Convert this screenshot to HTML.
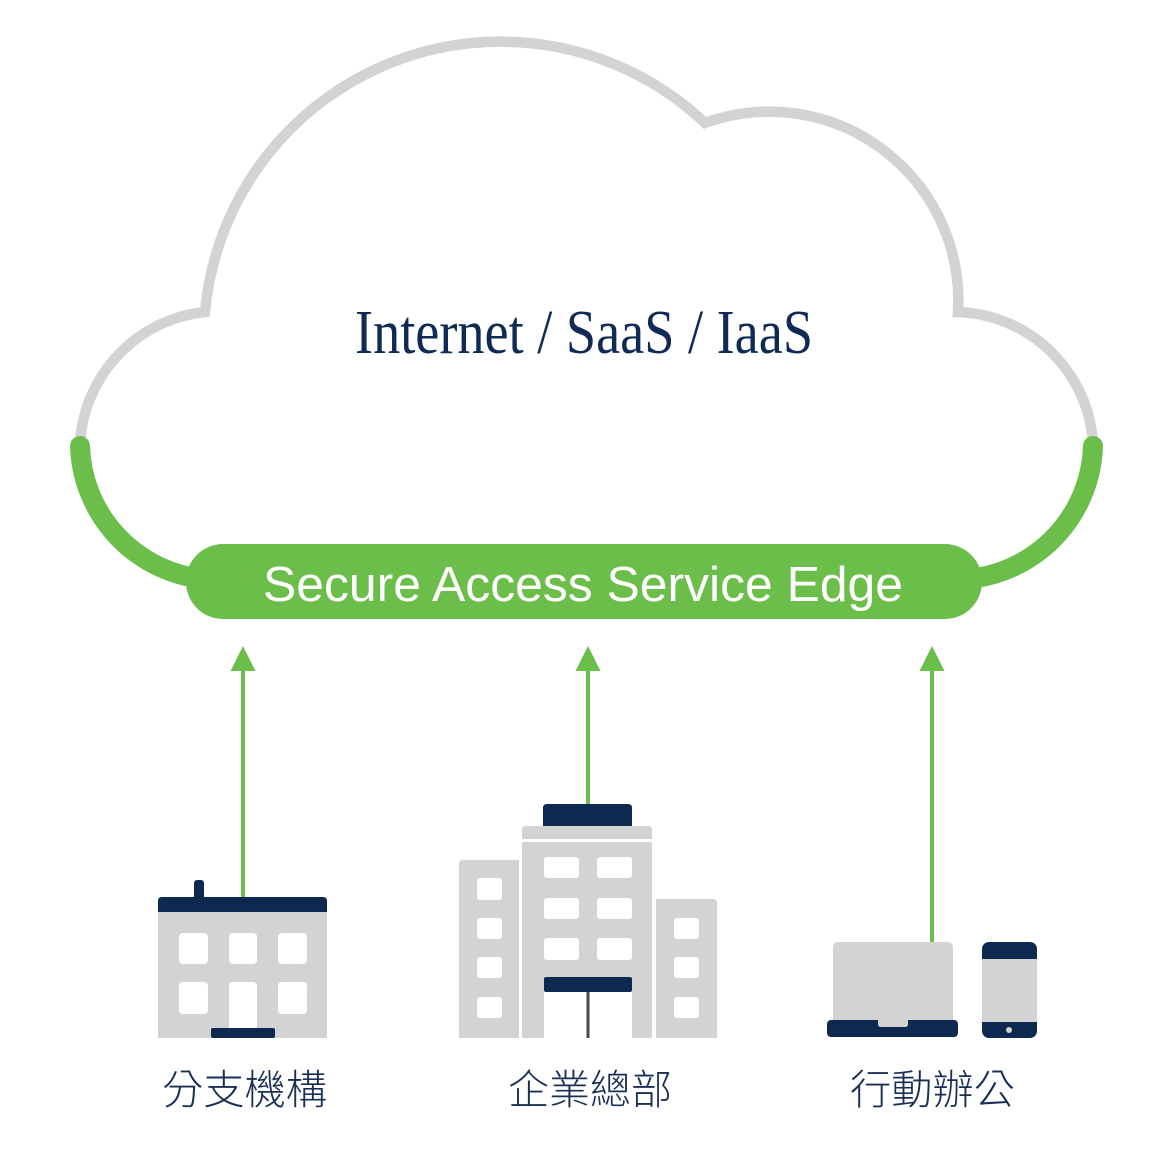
<!DOCTYPE html>
<html>
<head>
<meta charset="utf-8">
<style>
  html, body { margin:0; padding:0; background:#ffffff; }
  body { width:1176px; height:1156px; overflow:hidden; }
  svg { display:block; }
</style>
</head>
<body>
<svg width="1176" height="1156" viewBox="0 0 1176 1156" xmlns="http://www.w3.org/2000/svg">
  <!-- Cloud outline (gray) -->
  <path d="M 80 444 A 140 140 0 0 1 205 312 A 297 297 0 0 1 705 123 A 189 189 0 0 1 958 312 A 140 140 0 0 1 1093 444"
        fill="none" stroke="#d3d3d3" stroke-width="10.5" stroke-linejoin="miter"/>

  <!-- Green arcs -->
  <path d="M 80 446 A 138 138 0 0 0 196 578" fill="none" stroke="#6cbe4b" stroke-width="20" stroke-linecap="round"/>
  <path d="M 1093 446 A 138 138 0 0 1 976 578" fill="none" stroke="#6cbe4b" stroke-width="20" stroke-linecap="round"/>

  <!-- SASE pill -->
  <rect x="186" y="544" width="796" height="75" rx="37" ry="37" fill="#6cbe4b"/>
  <text x="263" y="601" font-family="'Liberation Sans', Arial, sans-serif" font-size="49" fill="#ffffff"
        textLength="640" lengthAdjust="spacingAndGlyphs">Secure Access Service Edge</text>

  <!-- Cloud label -->
  <text x="355" y="353" font-family="'Liberation Serif', 'Times New Roman', serif" font-size="62" fill="#0e2a55"
        textLength="458" lengthAdjust="spacingAndGlyphs">Internet / SaaS / IaaS</text>

  <!-- Arrows -->
  <g fill="#6cbe4b">
    <polygon points="230.5,671 243,646 255.5,671"/>
    <rect x="241" y="668" width="4" height="230"/>
    <polygon points="575.5,671 588,646 600.5,671"/>
    <rect x="586" y="668" width="4" height="137"/>
    <polygon points="919.5,671 932,646 944.5,671"/>
    <rect x="930" y="668" width="4" height="275"/>
  </g>

  <!-- Branch building -->
  <g>
    <rect x="194" y="880" width="10" height="20" rx="3" fill="#0e2950"/>
    <rect x="158" y="912" width="169" height="126" fill="#d3d3d3"/>
    <path d="M 158 912 L 158 901 Q 158 897 162 897 L 323 897 Q 327 897 327 901 L 327 912 Z" fill="#0e2950"/>
    <g fill="#ffffff">
      <rect x="179" y="933" width="29" height="31" rx="4"/>
      <rect x="229" y="933" width="28" height="31" rx="4"/>
      <rect x="278" y="933" width="29" height="31" rx="4"/>
      <rect x="179" y="982" width="29" height="32" rx="4"/>
      <rect x="229" y="982" width="28" height="56" rx="4"/>
      <rect x="278" y="982" width="29" height="32" rx="4"/>
    </g>
    <rect x="211" y="1028" width="64" height="10" rx="2" fill="#0e2950"/>
  </g>

  <!-- HQ buildings -->
  <g>
    <!-- left tower -->
    <path d="M 459 1038 L 459 864 Q 459 860 463 860 L 519 860 L 519 1038 Z" fill="#d3d3d3"/>
    <g fill="#ffffff">
      <rect x="477" y="878" width="25" height="22" rx="3"/>
      <rect x="477" y="918" width="25" height="21" rx="3"/>
      <rect x="477" y="957" width="25" height="21" rx="3"/>
      <rect x="477" y="997" width="25" height="21" rx="3"/>
    </g>
    <!-- right tower -->
    <path d="M 656 1038 L 656 899 L 713 899 Q 717 899 717 903 L 717 1038 Z" fill="#d3d3d3"/>
    <g fill="#ffffff">
      <rect x="674" y="918" width="25" height="21" rx="3"/>
      <rect x="674" y="957" width="25" height="21" rx="3"/>
      <rect x="674" y="997" width="25" height="21" rx="3"/>
    </g>
    <!-- center tower -->
    <path d="M 543 826 L 543 808 Q 543 804 547 804 L 628 804 Q 632 804 632 808 L 632 826 Z" fill="#0e2950"/>
    <path d="M 522 839 L 522 830 Q 522 826 526 826 L 648 826 Q 652 826 652 830 L 652 839 Z" fill="#d3d3d3"/>
    <rect x="522" y="842" width="130" height="196" fill="#d3d3d3"/>
    <g fill="#ffffff">
      <rect x="544" y="857" width="35" height="21" rx="3"/>
      <rect x="597" y="857" width="35" height="21" rx="3"/>
      <rect x="544" y="898" width="35" height="21" rx="3"/>
      <rect x="597" y="898" width="35" height="21" rx="3"/>
      <rect x="544" y="938" width="35" height="22" rx="3"/>
      <rect x="597" y="938" width="35" height="22" rx="3"/>
      <rect x="544" y="985" width="88" height="53"/>
    </g>
    <rect x="544" y="977" width="88" height="15" rx="2" fill="#0e2950"/>
    <rect x="586.5" y="992" width="3" height="46" fill="#4a4a4a"/>
  </g>

  <!-- Laptop -->
  <g>
    <path d="M 833 1022 L 833 948 Q 833 942 839 942 L 947 942 Q 953 942 953 948 L 953 1022 Z" fill="#d3d3d3"/>
    <rect x="827" y="1020" width="131" height="17" rx="4" fill="#0e2950"/>
    <path d="M 878 1020 L 908 1020 L 908 1024 Q 908 1027 905 1027 L 881 1027 Q 878 1027 878 1024 Z" fill="#d3d3d3"/>
  </g>

  <!-- Phone -->
  <g>
    <rect x="982" y="942" width="55" height="96" rx="7" fill="#0e2950"/>
    <rect x="982" y="959" width="55" height="63" fill="#d3d3d3"/>
    <circle cx="1009" cy="1030" r="3" fill="#d3d3d3"/>
  </g>

  <!-- Labels -->
  <g font-family="'Liberation Sans', 'Noto Sans CJK TC', 'Noto Sans CJK SC', sans-serif" font-size="41" font-weight="300" fill="#1a2f55">
    <text x="162" y="1104" textLength="165" lengthAdjust="spacingAndGlyphs">分支機構</text>
    <text x="508" y="1104" textLength="164" lengthAdjust="spacingAndGlyphs">企業總部</text>
    <text x="850" y="1104" textLength="165" lengthAdjust="spacingAndGlyphs">行動辦公</text>
  </g>
</svg>
</body>
</html>
